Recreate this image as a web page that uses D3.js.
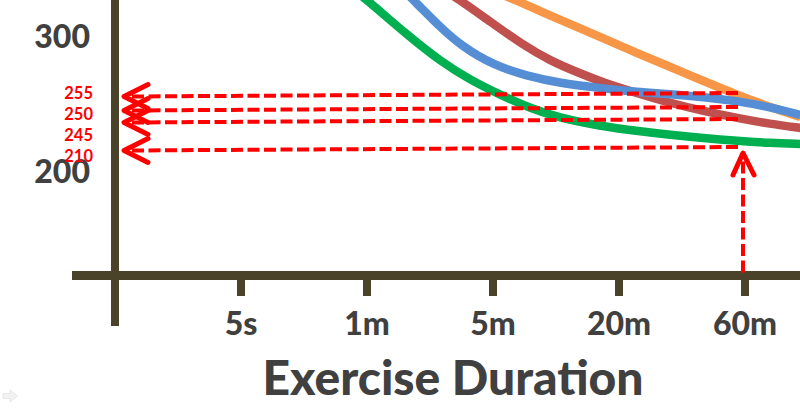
<!DOCTYPE html>
<html>
<head>
<meta charset="utf-8">
<script src="https://cdn.jsdelivr.net/npm/d3@7"></script>
<style>
  body { margin: 0; background: #fff; }
  svg { display: block; }
</style>
</head>
<body>
<svg id="chart" width="800" height="408"></svg>
<script>
// x is a position on the duration axis (1 = 5s ... 5 = 60m), y is the value
const durationLabels = ["5s", "1m", "5m", "20m", "60m"]
const durationIndex = [1, 2, 3, 4, 5]
const yTickValues = [300, 200]
const markedValues = [255, 250, 245, 210]

const orangeCurve = [[2.98, 337.8], [3.18, 329.7], [3.37, 320.9], [3.61, 310.4], [3.87, 299.2],
  [4.14, 287.1], [4.41, 275.9], [4.67, 264.6], [4.94, 254.3], [5.2, 250.0], [5.44, 245.8]]
const redCurve = [[2.58, 339.4], [2.74, 329.7], [2.98, 312.1], [3.24, 293.5], [3.45, 281.2],
  [3.67, 271.6], [3.87, 263.6], [4.14, 255.0], [4.41, 251.4], [4.67, 248.3], [4.94, 245.4],
  [5.2, 238.8], [5.44, 233.8]]
const blueCurve = [[2.26, 340.2], [2.37, 329.7], [2.58, 308.0], [2.75, 292.8], [3.0, 277.5],
  [3.27, 268.7], [3.53, 263.0], [3.85, 259.0], [4.14, 255.8], [4.41, 254.6], [4.67, 253.6],
  [4.94, 252.1], [5.2, 250.0], [5.44, 246.7]]
const greenCurve = [[1.85, 341.8], [2.0, 329.7], [2.32, 301.6], [2.58, 280.7], [2.82, 265.4],
  [3.06, 254.3], [3.29, 249.6], [3.53, 245.4], [3.85, 236.3], [4.14, 230.0], [4.41, 225.0],
  [4.67, 221.3], [4.94, 217.5], [5.2, 215.0], [5.44, 213.8]]

const curves = [
  {values: orangeCurve, color: "#F79646"},
  {values: redCurve, color: "#C0504D"},
  {values: blueCurve, color: "#558ED5"},
  {values: greenCurve, color: "#00B050"}
]

const width = 800
const height = 408
const axisColor = "#4A432A"
const textColor = "#404040"
const markColor = "#FF0000"
const fontFamily = "Lato, 'Open Sans', sans-serif"

const svg = d3.select("#chart")

// schematic axes: evenly spaced durations, piecewise value axis
const xScale = d3.scaleLinear().domain([0, 5]).range([115, 745])
const yScale = d3.scaleLinear()
    .domain([200, 210, 245, 250, 255, 300])
    .range([172, 147, 119, 107, 93, 37])

const xAxisY = 275.5

drawCurves()
drawAxes()
drawMarks()
drawLabels()

function drawCurves() {
  const line = d3.line()
      .x(d => xScale(d[0]))
      .y(d => yScale(d[1]))
      .curve(d3.curveBasis)

  svg.append("g")
    .selectAll("path")
    .data(curves)
    .join("path")
      .attr("d", d => line(d.values))
      .attr("fill", "none")
      .attr("stroke", d => d.color)
      .attr("stroke-width", 8.5)
}

function drawAxes() {
  const g = svg.append("g").attr("stroke", axisColor)

  g.append("line")
      .attr("x1", xScale(0)).attr("x2", xScale(0))
      .attr("y1", 0).attr("y2", 326)
      .attr("stroke-width", 8)

  g.append("line")
      .attr("x1", 72).attr("x2", width)
      .attr("y1", xAxisY).attr("y2", xAxisY)
      .attr("stroke-width", 9)

  g.selectAll(".tick")
    .data(durationIndex)
    .join("line")
      .attr("class", "tick")
      .attr("x1", d => xScale(d)).attr("x2", d => xScale(d))
      .attr("y1", xAxisY).attr("y2", 296)
      .attr("stroke-width", 8)
}

function drawMarks() {
  const g = svg.append("g")
      .attr("stroke", markColor)
      .attr("fill", "none")
  const tilt = 3.5
  const xRight = xScale(5) - 7
  const xTip = xScale(0) + 9

  g.selectAll(".hline")
    .data(markedValues)
    .join("line")
      .attr("class", "hline")
      .attr("x1", xRight).attr("y1", d => yScale(d))
      .attr("x2", xTip + 3).attr("y2", d => yScale(d) + tilt)
      .attr("stroke-width", 4)
      .attr("stroke-dasharray", "12 4.5")

  g.selectAll(".hhead")
    .data(markedValues)
    .join("path")
      .attr("class", "hhead")
      .attr("d", d => {
        const y = yScale(d) + tilt
        return `M${xTip + 24},${y - 12}L${xTip},${y}L${xTip + 24},${y + 12}`
      })
      .attr("stroke-width", 5)
      .attr("stroke-linecap", "round")
      .attr("stroke-linejoin", "round")

  // vertical arrow up from 60m
  const xv = xScale(5) - 2
  const tipY = yScale(210) + 6
  g.append("line")
      .attr("x1", xv).attr("x2", xv)
      .attr("y1", xAxisY - 3).attr("y2", tipY + 4)
      .attr("stroke-width", 4)
      .attr("stroke-dasharray", "12 4.5")
  g.append("path")
      .attr("d", `M${xv - 10},${tipY + 22}L${xv},${tipY}L${xv + 11},${tipY + 22}`)
      .attr("stroke-width", 5)
      .attr("stroke-linecap", "round")
      .attr("stroke-linejoin", "round")
}

function drawLabels() {
  svg.append("g")
    .selectAll("text")
    .data(durationIndex)
    .join("text")
      .attr("x", d => xScale(d))
      .attr("y", 335)
      .attr("text-anchor", "middle")
      .attr("font-family", fontFamily)
      .attr("font-weight", 900)
      .attr("font-size", 32)
      .attr("fill", textColor)
      .text((d, i) => durationLabels[i])

  svg.append("g")
    .selectAll("text")
    .data(yTickValues)
    .join("text")
      .attr("x", 90)
      .attr("y", d => yScale(d) + 11)
      .attr("text-anchor", "end")
      .attr("font-family", fontFamily)
      .attr("font-weight", 900)
      .attr("font-size", 32)
      .attr("fill", textColor)
      .text(d => d)

  svg.append("g")
    .selectAll("text")
    .data(markedValues)
    .join("text")
      .attr("x", 93)
      .attr("y", (d, i) => 99 + i * 21)
      .attr("text-anchor", "end")
      .attr("font-family", fontFamily)
      .attr("font-weight", "bold")
      .attr("font-size", 16.5)
      .attr("fill", markColor)
      .text(d => d)

  svg.append("text")
      .attr("x", 453)
      .attr("y", 395)
      .attr("text-anchor", "middle")
      .attr("font-family", fontFamily)
      .attr("font-weight", 900)
      .attr("font-size", 48)
      .attr("fill", textColor)
      .text("Exercise Duration")

  // faint slide navigation arrow, bottom left
  svg.append("path")
      .attr("d", "M3,393.5H10V390L17.5,396L10,402V398.5H3Z")
      .attr("fill", "#F2F2F2")
      .attr("stroke", "#E0E0E0")
      .attr("stroke-width", 0.7)
}
</script>
</body>
</html>
